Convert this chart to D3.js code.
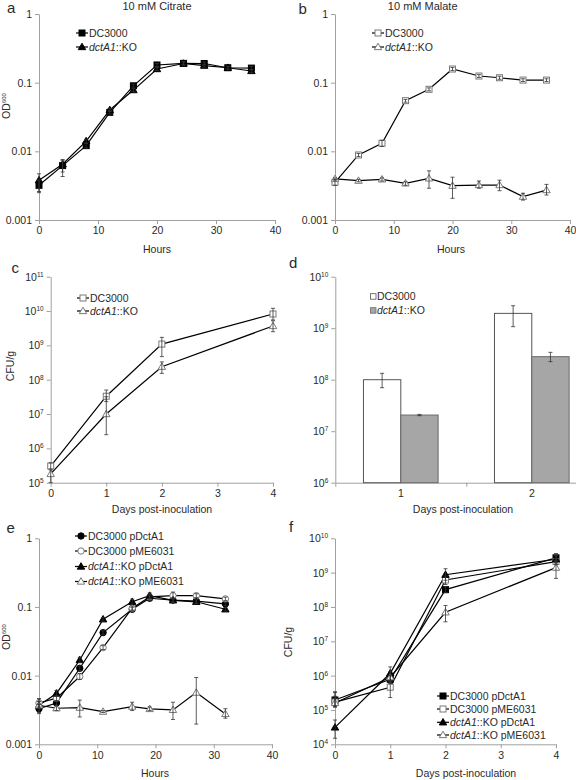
<!DOCTYPE html>
<html><head><meta charset="utf-8">
<script src="https://cdn.jsdelivr.net/npm/d3@7"></script>
<style>body{margin:0;background:#fff} text{font-family:"Liberation Sans",Arial,sans-serif}</style>
</head><body><svg id="c" width="576" height="780"></svg>
<script>
// ---------------- DATA ----------------
const hoursAB = [0,4,8,12,16,20,24.5,28,32,36];
const aDC = [0.0032,0.0062,0.0121,0.037,0.090,0.181,0.191,0.190,0.165,0.163];
const aDCerr = [[0.0026,0.0038],[0.0050,0.0074],[0.0112,0.0130],[0.035,0.039],[0.086,0.095],[0.172,0.19],[0.182,0.2],[0.18,0.2],[0.157,0.173],[0.153,0.173]];
const aKO = [0.0038,0.0065,0.0141,0.040,0.078,0.158,0.190,0.177,0.165,0.148];
const aKOerr = [[0.0025,0.0047],[0.0043,0.0076],[0.0132,0.015],[0.038,0.042],[0.074,0.082],[0.15,0.166],[0.18,0.2],[0.168,0.186],[0.157,0.173],[0.14,0.156]];

const bDC = [0.00354,0.00885,0.0131,0.0547,0.080,0.158,0.125,0.118,0.109,0.109];
const bDCerr = [[0.0032,0.0039],[0.0084,0.0093],[0.0118,0.0145],[0.052,0.057],[0.076,0.084],[0.15,0.166],[0.119,0.131],[0.112,0.124],[0.104,0.114],[0.104,0.114]];
const bKO = [0.00396,0.00374,0.00391,0.00342,0.00404,0.00316,0.00323,0.00323,0.00219,0.00273];
const bKOerr = [[0.0038,0.0041],[0.0036,0.0039],[0.0037,0.0041],[0.0032,0.0036],[0.0029,0.0052],[0.00207,0.0042],[0.0029,0.0037],[0.00267,0.0038],[0.00195,0.00245],[0.00231,0.0033]];

const days = [0,1,2,4];
const cDC = [3.06e5,3.3e7,1.09e9,8.2e9];
const cDCerr = [[2.5e5,3.8e5],[2.3e7,5e7],[4.7e8,1.71e9],[5.5e9,1.2e10]];
const cKO = [1.8e5,1e7,2.39e8,3.66e9];
const cKOerr = [[1e5,2.34e5],[2.5e6,3.2e7],[1.53e8,3.3e8],[2.5e9,5.2e9]];

const dCats = ["1","2"];
const dDC = [1.0e8,1.94e9];
const dDCerr = [[7e7,1.33e8],[1.07e9,2.73e9]];
const dKO = [2.06e7,2.8e8];
const dKOerr = [[2.0e7,2.12e7],[2.24e8,3.4e8]];

const hoursE = [0,3,7,11,16,19,23,27,32];
const eDCp = [0.0033,0.0040,0.0128,0.0423,0.0926,0.134,0.126,0.122,0.111];
const eDCpErr = [[0.0029,0.0038],[0.0037,0.0043],[0.0118,0.0139],[0.040,0.045],[0.087,0.099],[0.125,0.145],[0.118,0.135],[0.114,0.13],[0.104,0.118]];
const eDCv = [0.0040,0.0047,0.0097,0.0256,0.096,0.14,0.146,0.146,0.131];
const eDCvErr = [[0.0035,0.0046],[0.0043,0.0051],[0.0088,0.0107],[0.024,0.0273],[0.09,0.103],[0.13,0.15],[0.13,0.165],[0.137,0.156],[0.124,0.139]];
const eKOp = [0.0037,0.0055,0.0169,0.0662,0.119,0.146,0.125,0.119,0.0925];
const eKOpErr = [[0.0033,0.0042],[0.0050,0.0061],[0.0155,0.0185],[0.062,0.07],[0.11,0.13],[0.135,0.16],[0.117,0.134],[0.111,0.127],[0.087,0.098]];
const eKOv = [0.0037,0.00335,0.00342,0.00299,0.00354,0.00327,0.00317,0.00566,0.00277];
const eKOvErr = [[0.0028,0.0046],[0.0031,0.0036],[0.0025,0.0044],[0.0029,0.0031],[0.0031,0.0041],[0.0031,0.0035],[0.0023,0.0041],[0.00197,0.0094],[0.0024,0.0033]];

const fDCp = [1.95e5,7.8e5,3.2e8,2.7e9];
const fDCpErr = [[1.3e5,3.2e5],[6e5,1e6],[2.6e8,3.9e8],[2.0e9,3.6e9]];
const fDCv = [1.7e5,4.6e5,6.1e8,2.1e9];
const fDCvErr = [[1.25e5,3.4e5],[2.3e5,7e5],[4.5e8,8e8],[1.7e9,2.6e9]];
const fKOp = [3.1e4,1.17e6,8.7e8,2.45e9];
const fKOpErr = [[1.5e4,5.1e4],[7e5,1.8e6],[6e8,1.3e9],[1.9e9,3.1e9]];
const fKOv = [1.6e5,9e5,7.0e7,1.4e9];
const fKOvErr = [[1.2e5,2.5e5],[6e5,1.3e6],[3.7e7,1.1e8],[6.8e8,2.2e9]];

const odTicks = [0.001,0.01,0.1,1];
const odLabels = ["0.001","0.01","0.1","1"];
const hourTicks = [0,10,20,30,40];
const dayTicks = [0,1,2,3,4];

// ---------------- DRAWING ----------------
const svg = d3.select("#c");
svg.append("rect").attr("width",576).attr("height",780).attr("fill","#fff");
const AX = "#a0a0a0", TXT = "#2a2a2a", GREY = "#7a7a7a";
const FONT = "Liberation Sans, Arial, sans-serif";

function marker(g, shape, filled, x, y){
  const fill = filled ? "#000" : "#fff", stroke = filled ? "#000" : GREY;
  if(shape==="square"){
    g.append("rect").attr("x",x-3).attr("y",y-3).attr("width",6).attr("height",6)
      .attr("fill",fill).attr("stroke",stroke).attr("stroke-width",1);
  } else if(shape==="triangle"){
    g.append("path").attr("d",d3.symbol(d3.symbolTriangle,24)()).attr("transform",`translate(${x},${y+0.5})`)
      .attr("fill",fill).attr("stroke",stroke).attr("stroke-width",1);
  } else {
    g.append("circle").attr("cx",x).attr("cy",y).attr("r",3.2)
      .attr("fill",fill).attr("stroke",stroke).attr("stroke-width",1);
  }
}

function styleAxis(sel){
  sel.attr("font-family",FONT);
  sel.select(".domain").attr("stroke",AX);
  sel.selectAll(".tick line").attr("stroke",AX);
  sel.selectAll(".tick text").attr("fill",TXT).attr("font-size",10.5);
}
function powLabels(sel){
  sel.selectAll(".tick text").each(function(d){
    const t = d3.select(this); t.text("10");
    t.append("tspan").attr("dy",-4).attr("font-size",6.5).text(Math.round(Math.log10(d)));
  });
}
function legendText(g, x, y, parts){
  const t = g.append("text").attr("x",x).attr("y",y).attr("dy","0.36em").attr("font-size",10.5).attr("fill",TXT);
  parts.forEach(p => t.append("tspan").attr("font-style",p[1]?"italic":"normal").text(p[0]));
}
const KO = (suffix) => [["dctA1",true],["::KO"+suffix,false]];

function linePanel(o){
  const g = svg.append("g");
  const x = d3.scaleLinear().domain(o.xDomain).range(o.xRange);
  const y = d3.scaleLog().domain(o.yDomain).range(o.yRange);
  const ya = d3.axisLeft(y).tickValues(o.yTicks).tickSize(4).tickSizeOuter(0).tickPadding(3);
  if(o.yLabels) ya.tickFormat((d,i)=>o.yLabels[i]);
  const yg = g.append("g").attr("transform",`translate(${o.xRange[0]},0)`).call(ya);
  styleAxis(yg); if(!o.yLabels) powLabels(yg);
  const xa = d3.axisBottom(x).tickValues(o.xTicks).tickSize(4).tickSizeOuter(0).tickPadding(3).tickFormat(d3.format("d"));
  const xg = g.append("g").attr("transform",`translate(0,${o.yRange[0]})`).call(xa);
  styleAxis(xg);
  const line = d3.line().x((d,i)=>x(o.xs[i])).y(d=>y(d));
  o.series.forEach(s=>{
    g.append("path").attr("d",line(s.v)).attr("fill","none").attr("stroke","#000").attr("stroke-width",1.2);
  });
  o.series.forEach(s=>{
    s.v.forEach((v,i)=>marker(g,s.shape,s.filled,x(o.xs[i]),y(v)));
  });
  o.series.forEach(s=>{
    s.err.forEach((e,i)=>{
      const px = x(o.xs[i]), y0 = y(Math.max(e[0],o.yDomain[0])), y1 = y(e[1]);
      g.append("line").attr("x1",px).attr("x2",px).attr("y1",y0).attr("y2",y1).attr("stroke","#333").attr("stroke-width",0.8);
      [y0,y1].forEach(yy=>g.append("line").attr("x1",px-2).attr("x2",px+2).attr("y1",yy).attr("y2",yy).attr("stroke","#333").attr("stroke-width",0.8));
    });
  });
  // legend
  o.series.forEach((s,i)=>{
    const ly = o.legY[i], lx = o.legX;
    g.append("line").attr("x1",lx).attr("x2",lx+12).attr("y1",ly).attr("y2",ly).attr("stroke","#000").attr("stroke-width",1.2);
    marker(g,s.shape,s.filled,lx+6,ly);
    legendText(g,lx+13,ly,s.label);
  });
}

// panel a
linePanel({xDomain:[0,40],xRange:[39,275],yDomain:[0.001,1],yRange:[220,14],yTicks:odTicks,yLabels:odLabels,xTicks:hourTicks,xs:hoursAB,
  legX:76,legY:[33,47],
  series:[{v:aDC,err:aDCerr,shape:"square",filled:true,label:[["DC3000",false]]},
          {v:aKO,err:aKOerr,shape:"triangle",filled:true,label:KO("")}]});
// panel b
linePanel({xDomain:[0,40],xRange:[335,570],yDomain:[0.001,1],yRange:[220,14],yTicks:odTicks,yLabels:odLabels,xTicks:hourTicks,xs:hoursAB,
  legX:372,legY:[33,47],
  series:[{v:bDC,err:bDCerr,shape:"square",filled:false,label:[["DC3000",false]]},
          {v:bKO,err:bKOerr,shape:"triangle",filled:false,label:KO("")}]});
// panel c
linePanel({xDomain:[0,4],xRange:[50.7,273],yDomain:[1e5,1e11],yRange:[482.7,276.7],yTicks:[1e5,1e6,1e7,1e8,1e9,1e10,1e11],xTicks:dayTicks,xs:days,
  legX:77,legY:[298,311],
  series:[{v:cDC,err:cDCerr,shape:"square",filled:false,label:[["DC3000",false]]},
          {v:cKO,err:cKOerr,shape:"triangle",filled:false,label:KO("")}]});
// panel e
linePanel({xDomain:[0,40],xRange:[39,272],yDomain:[0.001,1],yRange:[744.3,538.3],yTicks:odTicks,yLabels:odLabels,xTicks:hourTicks,xs:hoursE,
  legX:75,legY:[536,551,566.5,581.5],
  series:[{v:eDCp,err:eDCpErr,shape:"circle",filled:true,label:[["DC3000 pDctA1",false]]},
          {v:eDCv,err:eDCvErr,shape:"circle",filled:false,label:[["DC3000 pME6031",false]]},
          {v:eKOp,err:eKOpErr,shape:"triangle",filled:true,label:KO(" pDctA1")},
          {v:eKOv,err:eKOvErr,shape:"triangle",filled:false,label:KO(" pME6031")}]});
// panel f
linePanel({xDomain:[0,4],xRange:[335,556],yDomain:[1e4,1e10],yRange:[744.3,538.3],yTicks:[1e4,1e5,1e6,1e7,1e8,1e9,1e10],xTicks:dayTicks,xs:days,
  legX:437,legY:[696,709,722.3,735],
  series:[{v:fDCp,err:fDCpErr,shape:"square",filled:true,label:[["DC3000 pDctA1",false]]},
          {v:fDCv,err:fDCvErr,shape:"square",filled:false,label:[["DC3000 pME6031",false]]},
          {v:fKOp,err:fKOpErr,shape:"triangle",filled:true,label:KO(" pDctA1")},
          {v:fKOv,err:fKOvErr,shape:"triangle",filled:false,label:KO(" pME6031")}]});

// panel d (bars)
(function(){
  const g = svg.append("g");
  const x0 = 335.3, step = 131;
  const xb = d3.scaleBand().domain(dCats).range([x0,x0+2*step]).paddingInner(0.43).paddingOuter(0.215);
  const xs = d3.scaleBand().domain(["DC","KO"]).range([0,xb.bandwidth()]);
  const y = d3.scaleLog().domain([1e6,1e10]).range([482.7,276.7]);
  const yg = g.append("g").attr("transform",`translate(${x0},0)`)
    .call(d3.axisLeft(y).tickValues([1e6,1e7,1e8,1e9,1e10]).tickSize(4).tickSizeOuter(0).tickPadding(3));
  styleAxis(yg); powLabels(yg);
  const xl = d3.scaleLinear().domain([0,2]).range([x0,x0+2*step]);
  const xg = g.append("g").attr("transform","translate(0,482.7)")
    .call(d3.axisBottom(xl).tickValues([0,1,2]).tickSize(4).tickSizeOuter(0).tickFormat(""));
  styleAxis(xg);
  dCats.forEach(c=>g.append("text").attr("x",xb(c)+xb.bandwidth()/2).attr("y",482.7+7).attr("dy","0.71em")
    .attr("text-anchor","middle").attr("font-size",10.5).attr("fill",TXT).text(c));
  const groups = [{k:"DC",v:dDC,err:dDCerr,fill:"#fff",stroke:"#555"},{k:"KO",v:dKO,err:dKOerr,fill:"#a6a6a6",stroke:"#6a6a6a"}];
  groups.forEach(s=>{
    dCats.forEach((c,i)=>{
      const bx = xb(c)+xs(s.k);
      g.append("rect").attr("x",bx).attr("y",y(s.v[i])).attr("width",xs.bandwidth()).attr("height",y(1e6)-y(s.v[i]))
        .attr("fill",s.fill).attr("stroke",s.stroke).attr("stroke-width",1);
    });
  });
  groups.forEach(s=>{
    dCats.forEach((c,i)=>{
      const px = xb(c)+xs(s.k)+xs.bandwidth()/2, y0=y(s.err[i][0]), y1=y(s.err[i][1]);
      g.append("line").attr("x1",px).attr("x2",px).attr("y1",y0).attr("y2",y1).attr("stroke","#333").attr("stroke-width",0.8);
      [y0,y1].forEach(yy=>g.append("line").attr("x1",px-2).attr("x2",px+2).attr("y1",yy).attr("y2",yy).attr("stroke","#333").attr("stroke-width",0.8));
    });
  });
  const leg = [[["DC3000",false]],KO("")];
  groups.forEach((s,i)=>{
    const ly = [296.5,310.5][i];
    g.append("rect").attr("x",370.5).attr("y",ly-2.8).attr("width",5.5).attr("height",5.5).attr("fill",s.fill).attr("stroke",s.stroke).attr("stroke-width",0.8);
    legendText(g,377,ly,leg[i]);
  });
})();

// titles, axis labels, panel letters
function txt(x,y,s,opt={}){
  const t = svg.append("text").attr("x",x).attr("y",y).attr("font-size",opt.size||10.5).attr("fill",TXT)
    .attr("text-anchor",opt.anchor||"middle");
  if(opt.rot) t.attr("transform",`rotate(-90,${x},${y})`);
  return t.text(s);
}
txt(157,9.5,"10 mM Citrate",{size:11});
txt(422.7,9.5,"10 mM Malate",{size:11});
txt(157,253,"Hours"); txt(451,253,"Hours");
txt(162,513,"Days post-inoculation"); txt(463,513,"Days post-inoculation");
txt(155,776.5,"Hours"); txt(466,777,"Days post-inoculation");
function odLabel(x,y){
  const t = txt(x,y,"OD",{rot:true});
  t.append("tspan").attr("dy",-4).attr("font-size",6).text("600");
}
odLabel(10,106); odLabel(10,637);
txt(13.5,366,"CFU/g",{rot:true}); txt(291.5,642,"CFU/g",{rot:true});
[["a",7,13],["b",298.5,13.5],["c",11.5,273],["d",289,267.7],["e",6.5,532.7],["f",289,531.7]]
  .forEach(p=>txt(p[1],p[2],p[0],{size:15,anchor:"start"}));
</script></body></html>
